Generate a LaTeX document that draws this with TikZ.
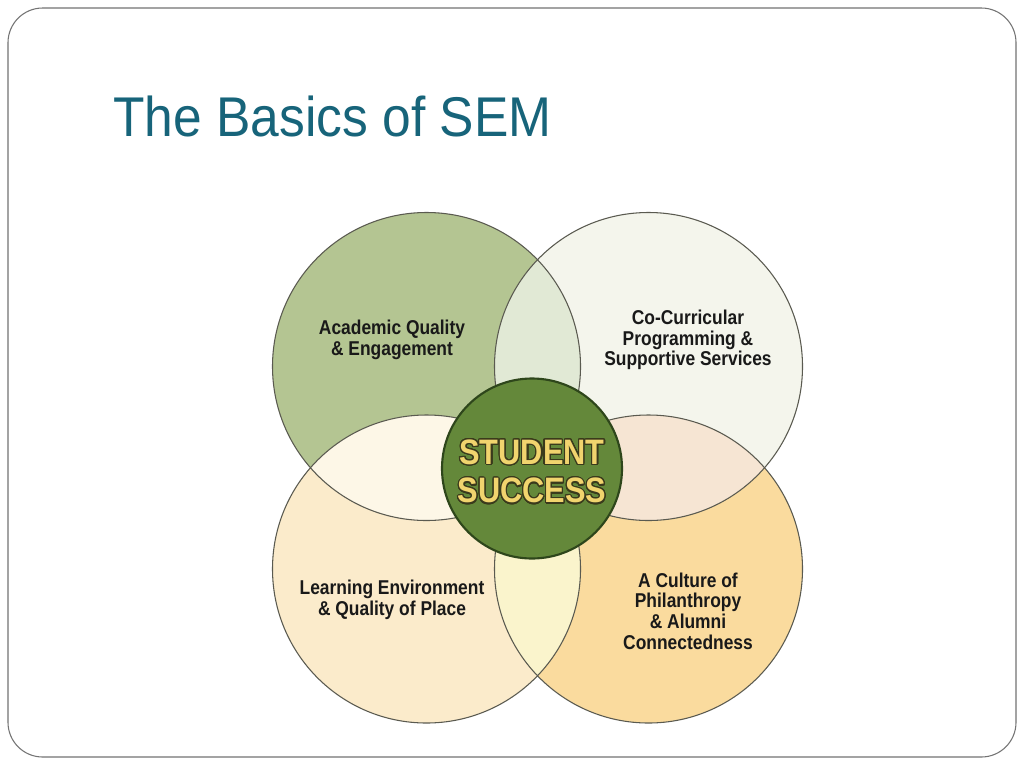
\documentclass[tikz,border=0pt]{standalone}
\usepackage{fontspec}
\usepackage{contour}
\contourlength{0.9pt}
\contournumber{24}
\usetikzlibrary{calc}
\setmainfont{Liberation Sans}
\newfontfamily\titlefont[FakeStretch=0.92]{Liberation Sans}
\newfontfamily\lblfont[FakeStretch=0.87]{Liberation Sans}
\definecolor{titleblue}{HTML}{17647A}
\definecolor{cTL}{HTML}{B4C592}
\definecolor{cTR}{HTML}{F4F5EC}
\definecolor{cBL}{HTML}{FBEBCB}
\definecolor{cBR}{HTML}{FADB9E}
\definecolor{lTLTR}{HTML}{E1E9D5}
\definecolor{lTLBL}{HTML}{FDF7E7}
\definecolor{lTRBR}{HTML}{F6E5D3}
\definecolor{lBLBR}{HTML}{FAF4CC}
\definecolor{cCenter}{HTML}{64883A}
\definecolor{cCenterEdge}{HTML}{2E461B}
\definecolor{cYellow}{HTML}{F1D46E}
\definecolor{cShadow}{HTML}{3A3A1C}
\definecolor{ringline}{HTML}{5A5A50}
\tikzset{
  ring/.style={draw=ringline, line width=0.8pt},
  lbl/.style={font=\lblfont\bfseries\fontsize{15}{15.5}\selectfont, text=black!90, align=center, inner sep=0pt},
  bigtxt/.style={font=\lblfont\bfseries\fontsize{26.5}{29}\selectfont, align=center, inner sep=0pt},
}
\begin{document}
\begin{tikzpicture}[x=0.75pt, y=-0.75pt]
\useasboundingbox (0,0) rectangle (1024,768);
\fill[white] (0,0) rectangle (1024,768);
% slide frame
\draw[draw=black!55, line width=0.8pt, rounded corners=26pt] (8,8) rectangle (1016,757);
% title
\node[anchor=base west, inner sep=0pt, text=titleblue, font=\titlefont\fontsize{42}{42}\selectfont] (title) at (113,136) {The Basics of SEM};
% centres
\coordinate (TL) at (426.5,366.5);
\coordinate (TR) at (648.5,366.5);
\coordinate (BL) at (426.5,569);
\coordinate (BR) at (648.5,569);
\coordinate (C) at (532,468.5);
\def\R{154}
% circle fills
\fill[cTL] (TL) circle[radius=\R];
\fill[cTR] (TR) circle[radius=\R];
\fill[cBL] (BL) circle[radius=\R];
\fill[cBR] (BR) circle[radius=\R];
% lenses
\begin{scope}\clip (TL) circle[radius=\R]; \fill[lTLTR] (TR) circle[radius=\R];\end{scope}
\begin{scope}\clip (TL) circle[radius=\R]; \fill[lTLBL] (BL) circle[radius=\R];\end{scope}
\begin{scope}\clip (TR) circle[radius=\R]; \fill[lTRBR] (BR) circle[radius=\R];\end{scope}
\begin{scope}\clip (BL) circle[radius=\R]; \fill[lBLBR] (BR) circle[radius=\R];\end{scope}
% outlines
\draw[ring] (TL) circle[radius=\R];
\draw[ring] (TR) circle[radius=\R];
\draw[ring] (BL) circle[radius=\R];
\draw[ring] (BR) circle[radius=\R];
% centre circle
\fill[cCenter, draw=cCenterEdge, line width=1.6pt] (C) circle[radius=90];
% labels
\node[lbl] (tltext) at (392,340) {Academic Quality\\\& Engagement};
\node[lbl] (trtext) at (688,340) {Co-Curricular\\Programming \&\\Supportive Services};
\node[lbl] (bltext) at (392,600) {Learning Environment\\\& Quality of Place};
\node[lbl] (brtext) at (688,611) {A Culture of\\Philanthropy\\\& Alumni\\Connectedness};
% student success with dark edge
\node[bigtxt, text=cYellow] (center) at (532,472) {\contour{cShadow}{STUDENT}\\\contour{cShadow}{SUCCESS}};
\end{tikzpicture}
\end{document}
